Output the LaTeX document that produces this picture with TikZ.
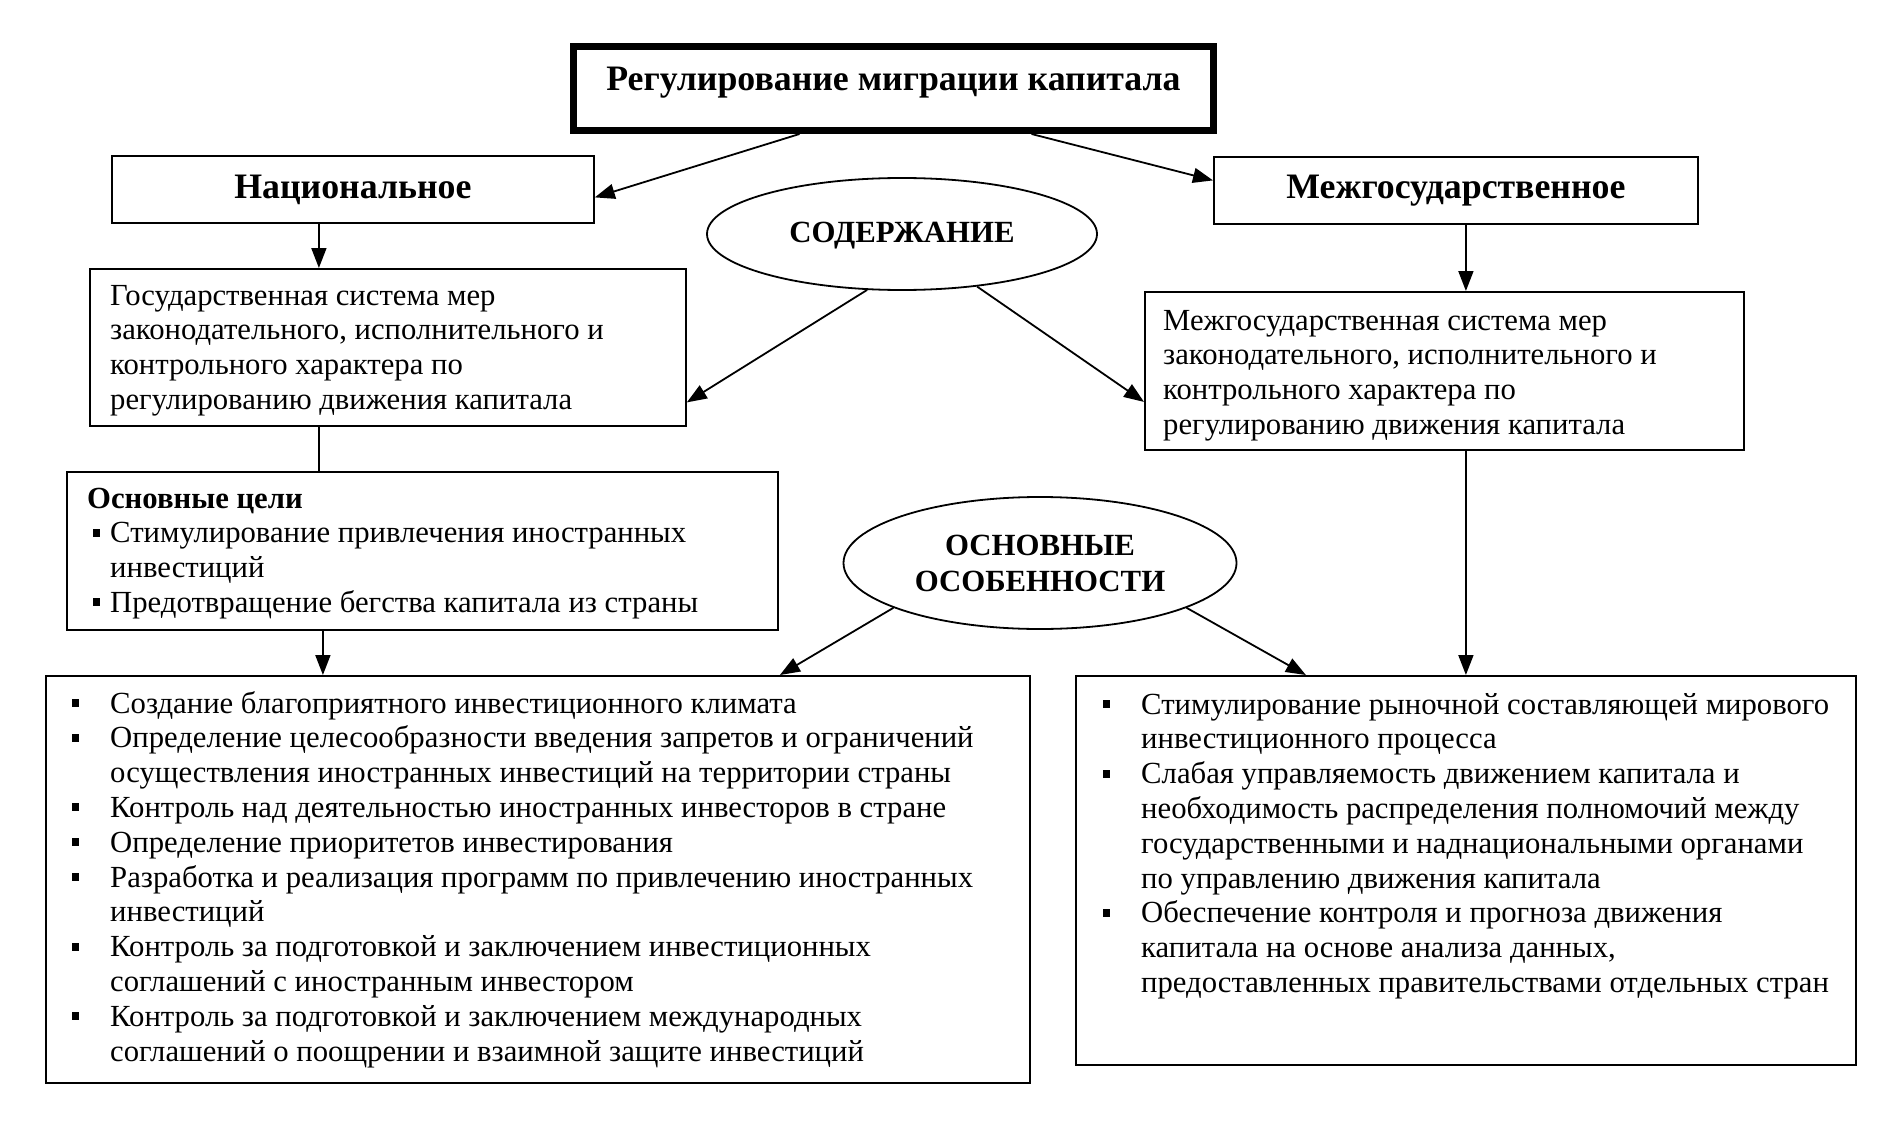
\documentclass[tikz,border=0pt]{standalone}
\usepackage{fontspec}
\setmainfont{Liberation Serif}
\usetikzlibrary{arrows.meta,shapes.geometric}
\newcommand{\bodyfont}{\fontsize{30.7}{34.8}\selectfont}
\newcommand{\headfont}{\fontsize{35.8}{40}\selectfont\bfseries}
\newcommand{\ovfont}{\fontsize{30.8}{36}\selectfont\bfseries}
\newcommand{\titlefont}{\fontsize{35.8}{42}\selectfont\bfseries}
\newcommand{\sqbul}{\raisebox{6pt}{\rule{7pt}{8pt}}}
\newcommand{\bi}{\makebox[38pt][l]{\sqbul}}
\newcommand{\bj}{\makebox[17pt][l]{\sqbul}}
\begin{document}
\begin{tikzpicture}[x=1pt,y=1pt,
  bx/.style={draw, line width=1.8pt, inner sep=0pt, anchor=north west, rectangle},
  ov/.style={draw, line width=1.8pt, ellipse, inner sep=0pt, align=center, font=\ovfont},
  txt/.style={anchor=base west, inner sep=0pt, font=\bodyfont},
  arr/.style={line width=1.8pt, -{Triangle[length=20pt,width=15pt]}},
  ln/.style={line width=1.8pt}]
\fill[white] (0,0) rectangle (1894,-1126);
\useasboundingbox (0,0) rectangle (1894,-1126);

% boxes
\node[bx, minimum width=642pt, minimum height=86pt, line width=5pt] (title) at (570,-43) {};
\draw[line width=1.2pt] ([shift={(6pt,-6pt)}]title.north west) rectangle ([shift={(-6pt,6pt)}]title.south east);
\node[font=\titlefont, inner sep=0pt] (titlet) at ([yshift=6pt]title.center) {Регулирование миграции капитала};
\node[bx, minimum width=482pt, minimum height=67pt, font=\headfont] (nat) at (111,-155) {Национальное};
\node[bx, minimum width=484pt, minimum height=67pt, font=\headfont] (mg) at (1213,-156) {Межгосударственное};
\node[ov, minimum width=390pt, minimum height=112pt] (sod) at (902,-234) {};
\node[font=\ovfont, inner sep=0pt] (sodt) at ([yshift=-2pt]sod.center) {СОДЕРЖАНИЕ};
\node[bx, minimum width=596pt, minimum height=157pt] (lc) at (89,-268) {};
\node[bx, minimum width=599pt, minimum height=158pt] (rc) at (1144,-291) {};
\node[bx, minimum width=711pt, minimum height=158pt] (goals) at (66,-471) {};
\node[ov, minimum width=393pt, minimum height=132pt] (feat) at (1040,-563) {ОСНОВНЫЕ\\ОСОБЕННОСТИ};
\node[bx, minimum width=984pt, minimum height=407pt] (bl) at (45,-675) {};
\node[bx, minimum width=780pt, minimum height=389pt] (br) at (1075,-675) {};

% texts
\node[txt] (lct) at (110,-305) {\begin{tabular}[t]{@{}l@{}}Государственная система мер\\законодательного, исполнительного и\\контрольного характера по\\регулированию движения капитала\end{tabular}};
\node[txt] (rct) at (1163,-330) {\begin{tabular}[t]{@{}l@{}}Межгосударственная система мер\\законодательного, исполнительного и\\контрольного характера по\\регулированию движения капитала\end{tabular}};
\node[txt] (goalst) at (87,-508) {\begin{tabular}[t]{@{}l@{}l@{}}\multicolumn{2}{@{}l@{}}{\bfseries Основные цели}\\
\hspace{6pt}\bj & Стимулирование привлечения иностранных\\
 & инвестиций\\
\hspace{6pt}\bj & Предотвращение бегства капитала из страны\end{tabular}};
\node[txt] (blt) at (72,-713) {\begin{tabular}[t]{@{}l@{}l@{}}
\bi & Создание благоприятного инвестиционного климата\\
\bi & Определение целесообразности введения запретов и ограничений\\
 & осуществления иностранных инвестиций на территории страны\\
\bi & Контроль над деятельностью иностранных инвесторов в стране\\
\bi & Определение приоритетов инвестирования\\
\bi & Разработка и реализация программ по привлечению  иностранных\\
 & инвестиций\\
\bi & Контроль за подготовкой и заключением инвестиционных\\
 & соглашений с иностранным инвестором\\
\bi & Контроль за подготовкой и заключением международных\\
 & соглашений о поощрении и взаимной защите инвестиций\end{tabular}};
\node[txt] (brt) at (1103,-714) {\begin{tabular}[t]{@{}l@{}l@{}}
\bi & Стимулирование рыночной составляющей мирового\\
 & инвестиционного процесса\\
\bi & Слабая управляемость движением капитала и\\
 & необходимость распределения полномочий между\\
 & государственными и наднациональными органами\\
 & по управлению движения капитала\\
\bi & Обеспечение контроля и прогноза движения\\
 & капитала на основе анализа данных,\\
 & предоставленных правительствами отдельных стран\end{tabular}};

% connectors
\draw[arr] ([xshift=-94pt]title.south) -- ([yshift=-8pt]nat.east);
\draw[arr] ([xshift=138pt]title.south) -- ([yshift=10pt]mg.west);
\draw[arr] ([xshift=-34pt]nat.south) -- ([xshift=-34pt]nat.south |- lc.north);
\draw[arr] ([xshift=10pt]mg.south) -- ([xshift=10pt]mg.south |- rc.north);
\draw[arr] (sod.238) -- ([yshift=-55pt]lc.east);
\draw[arr] (sod.325) -- ([yshift=-31pt]rc.west);
\draw[ln] ([xshift=-69pt]lc.south) -- ([xshift=-69pt]lc.south |- goals.north);
\draw[arr] ([xshift=-99.5pt]goals.south) -- ([xshift=-99.5pt]goals.south |- bl.north);
\draw[arr] ([xshift=21.5pt]rc.south) -- ([xshift=21.5pt]rc.south |- br.north);
\draw[arr] (feat.197) -- ([xshift=242pt]bl.north);
\draw[arr] (feat.343) -- ([xshift=-160pt]br.north);
\end{tikzpicture}
\end{document}
